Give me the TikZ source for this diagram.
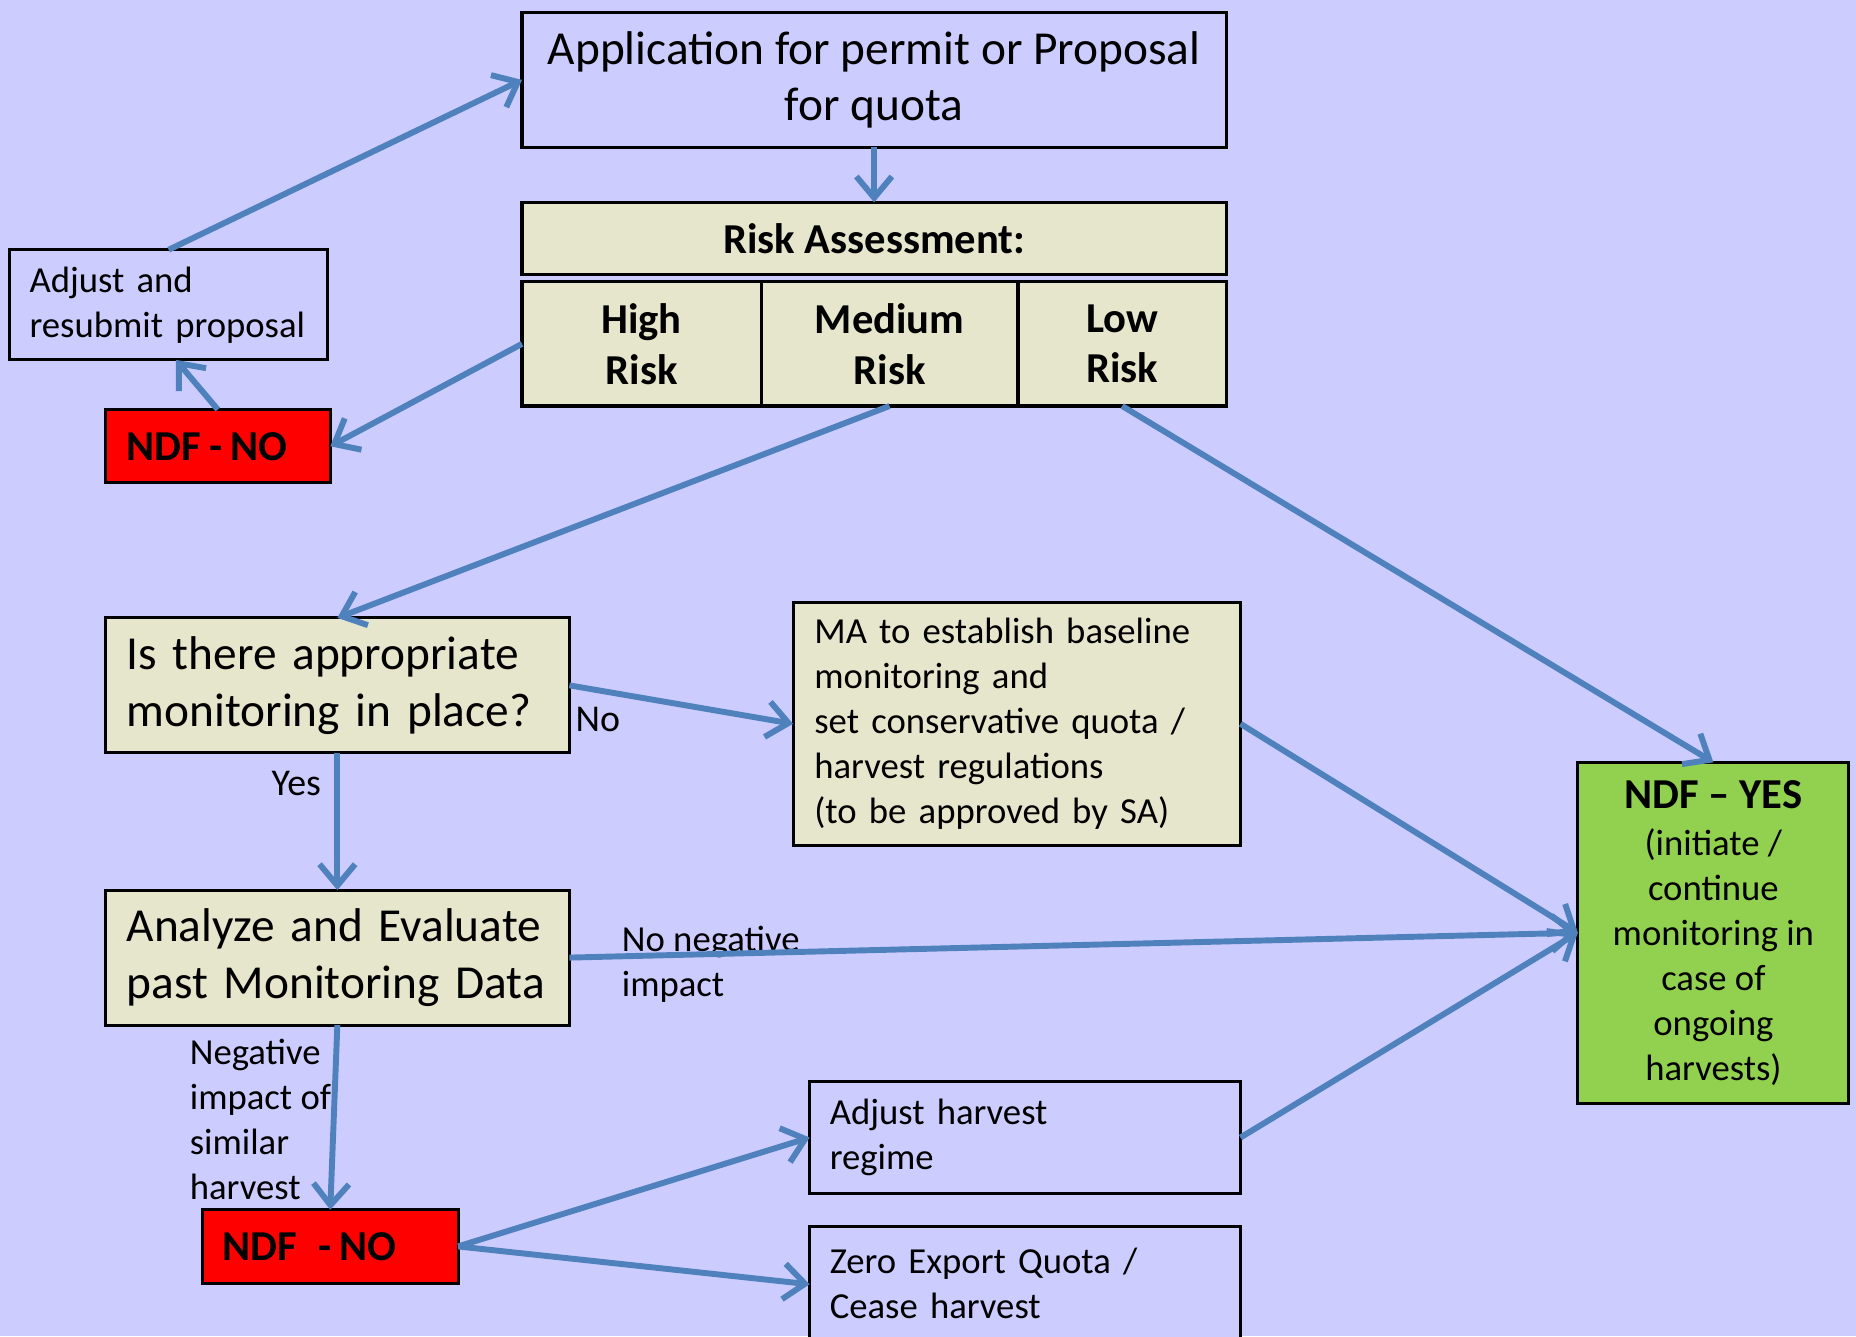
\documentclass[tikz,border=0pt]{standalone}
\usepackage{fontspec}
\setmainfont{Carlito}
\usetikzlibrary{arrows.meta,calc}
\definecolor{bgc}{HTML}{CCCCFF}
\definecolor{beige}{HTML}{E6E6CC}
\definecolor{ndfgreen}{HTML}{92D050}
\definecolor{arrowc}{HTML}{4F81BD}
\begin{document}
\begin{tikzpicture}[x=0.5pt,y=-0.5pt,
 box/.style={draw=black, line width=1.3pt, inner sep=0pt, outer sep=0pt},
 big/.style={font=\fontsize{20}{24}\selectfont},
 small/.style={font=\fontsize{15.5}{19}\selectfont},
 boldf/.style={font=\fontsize{18}{21.5}\selectfont\bfseries},
 conn/.style={draw=arrowc, line width=2.5pt, -{Straight Barb[length=9pt,width=15pt]}},
 lbl/.style={inner sep=0pt, font=\fontsize{15.5}{19}\selectfont, align=left}
]
\fill[bgc] (0,0) rectangle (1568,1129);
\useasboundingbox (0,0) rectangle (1568,1129);

\node[box, fill=bgc, big, align=center, minimum width=297.5pt, minimum height=57pt] (app) at (738.5,67.5) {Application for permit or Proposal\\for quota};
\node[box, fill=beige, boldf, minimum width=297.5pt, minimum height=30.5pt] (risk) at (738.5,201.5) {Risk Assessment:};
\node[box, fill=beige, boldf, align=center, minimum width=101pt, minimum height=52.5pt] (high) at (542,290.5) {High\\Risk};
\node[box, fill=beige, boldf, align=center, minimum width=108.5pt, minimum height=52.5pt] (medium) at (751.5,290.5) {Medium\\Risk};
\node[box, fill=beige, boldf, align=center, minimum width=88pt, minimum height=52.5pt] (low) at (948,290.5) {Low\\Risk};

\node[box, fill=bgc, small, align=left, text width=117.5pt, inner xsep=8.5pt, minimum width=134.5pt, minimum height=46.5pt] (adjust) at (142.5,257.5) {Adjust and\\resubmit proposal};
\node[box, fill=red, boldf, align=left, text width=77pt, inner xsep=9pt, minimum width=95pt, minimum height=31pt] (ndfno1) at (184,377) {NDF\hspace{3.5pt}-\hspace{3.5pt}NO};

\node[box, fill=beige, big, align=left, text width=178pt, inner xsep=9pt, minimum width=196pt, minimum height=57pt] (q) at (285,579) {Is there appropriate\\monitoring in place?};
\node[box, fill=beige, small, align=left, text width=171pt, inner xsep=9pt, minimum width=189pt, minimum height=102.5pt] (ma) at (859,611.5) {MA to establish baseline\\monitoring and\\set conservative quota /\\harvest regulations\\(to be approved by SA)};
\node[box, fill=beige, big, align=left, text width=178pt, inner xsep=9pt, minimum width=196pt, minimum height=57pt] (analyze) at (285,809) {Analyze and Evaluate\\past Monitoring Data};

\node[box, fill=ndfgreen, small, align=center, minimum width=114.5pt, minimum height=144pt] (yes) at (1447.5,788) {{\fontsize{18}{19}\selectfont\bfseries NDF – YES}\\[1pt](initiate /\\continue\\monitoring in\\case of\\ongoing\\harvests)};

\node[box, fill=red, boldf, align=left, text width=91pt, inner xsep=8.5pt, minimum width=108pt, minimum height=31pt] (ndfno2) at (279,1053) {NDF\hspace{9pt}-\hspace{3.5pt}NO};
\node[box, fill=bgc, small, align=left, text width=165pt, inner xsep=8.5pt, minimum width=182pt, minimum height=47pt] (adjh) at (866,961) {Adjust harvest\\regime};
\node[box, fill=bgc, small, align=left, text width=165pt, inner xsep=8.5pt, minimum width=182pt, minimum height=49pt, text depth=20pt] (zero) at (866,1085) {Zero Export Quota /\\Cease harvest};

\node[inner sep=0pt, font=\fontsize{16}{19}\selectfont, anchor=base west] (lno) at (486,618) {No};
\node[inner sep=0pt, font=\fontsize{16}{19}\selectfont, anchor=base west] (lyes) at (229,672) {Yes};
\node[lbl, anchor=base west] (lnoneg) at (525,842) {No negative\\impact};
\node[lbl, anchor=base west] (lneg) at (160,1013) {Negative\\impact of\\similar\\harvest};

\draw[conn] (app.south) -- (risk.north);
\draw[conn] (high.west) -- (ndfno1.east);
\draw[conn] (ndfno1.north) -- ([xshift=3pt]adjust.south);
\draw[conn] (adjust.north) -- (app.west);
\draw[conn] (medium.south) -- (q.north);
\draw[conn] (low.south) -- (yes.north);
\draw[conn] (q.east) -- (ma.west);
\draw[conn] (q.south) -- (analyze.north);
\draw[conn] (analyze.east) -- (yes.west);
\draw[conn] (ma.east) -- (yes.west);
\draw[conn] (adjh.east) -- (yes.west);
\draw[conn] (analyze.south) -- (ndfno2.north);
\draw[conn] (ndfno2.east) -- (adjh.west);
\draw[conn] (ndfno2.east) -- (zero.west);
\end{tikzpicture}
\end{document}
